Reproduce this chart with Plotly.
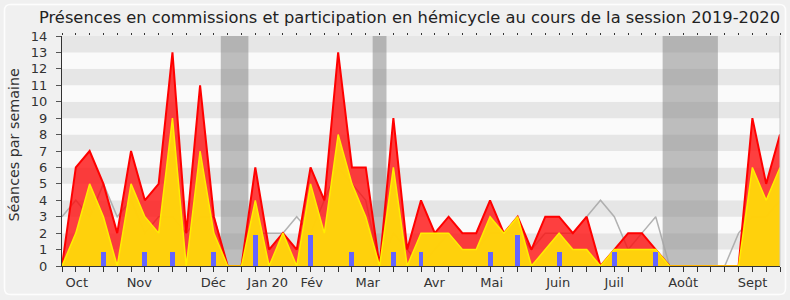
import plotly.graph_objects as go

# ---- data ----
weeks = list(range(53))
total = [0, 6, 7, 5, 2, 7, 4, 5, 13, 2,
         11, 3, 0, 0, 6, 1, 2, 1, 6, 4,
         13, 6, 6, 0, 9, 1, 4, 2, 3, 2,
         2, 4, 2, 3, 1, 3, 3, 2, 3, 0,
         1, 2, 2, 1, 0, 0, 0, 0, 0, 0,
         9, 5, 8]
hemicycle = [0, 2, 5, 3, 0, 5, 3, 2, 9, 0,
             7, 2, 0, 0, 4, 0, 2, 0, 5, 2,
             8, 5, 3, 0, 6, 0, 2, 2, 2, 1,
             1, 3, 2, 3, 0, 1, 2, 1, 1, 0,
             1, 1, 1, 1, 0, 0, 0, 0, 0, 0,
             6, 4, 6]
median = [3, 4, 3, 5, 3, 4, 2, 3, 3, 2,
          3, 3, 0, 0, 2, 2, 2, 3, 2, 4,
          6, 5, 4, 0, 2, 1, 0, 1, 2, 1,
          1, 2, 2, 2, 1, 2, 2, 2, 3, 4,
          3, 1, 2, 3, 0, 0, 0, 0, 0, 2,
          3, 3, 4]
commission_weeks = [3, 6, 8, 11, 14, 18, 21, 24, 26, 31, 33, 36, 40, 43]
commission_vals = [0.88, 0.88, 0.88, 0.88, 1.9, 1.9, 0.88, 0.88, 0.88, 0.88, 1.9, 0.88, 0.88, 0.88]
vacances = [(12, 13), (23, 23), (44, 47)]
months = ["Oct", "Nov", "Déc", "Jan 20", "Fév", "Mar", "Avr", "Mai", "Juin", "Juil", "Août", "Sept"]
month_pos = [1.07, 5.6, 10.96, 14.9, 18.09, 22.14, 26.96, 31.12, 35.94, 39.99, 44.99, 50.02]
y_ticks = list(range(0, 15))

FONT = "DejaVu Sans"
W, H = 790, 300
ML, MR, MT, MB = 62, 10, 36, 34

fig = go.Figure()

# median grey line (drawn beneath the areas)
fig.add_trace(go.Scatter(x=weeks, y=median, mode="lines",
                         line=dict(color="rgba(165,165,165,0.85)", width=1.5),
                         hoverinfo="skip", showlegend=False))
# red area (total)
fig.add_trace(go.Scatter(x=weeks, y=total, mode="lines", fill="tozeroy",
                         line=dict(color="rgb(255,0,0)", width=2),
                         fillcolor="rgba(255,10,10,0.78)", hoverinfo="skip", showlegend=False))
# yellow area (hemicycle)
fig.add_trace(go.Scatter(x=weeks, y=hemicycle, mode="lines", fill="tozeroy",
                         line=dict(color="rgb(255,238,0)", width=1.5),
                         fillcolor="rgba(255,214,10,0.97)", hoverinfo="skip", showlegend=False))
# commission bars on overlay axes (so they are drawn above areas)
fig.add_trace(go.Bar(x=commission_weeks, y=commission_vals, width=0.36,
                     marker=dict(color="rgb(100,100,255)", line=dict(width=0)),
                     xaxis="x2", yaxis="y2", hoverinfo="skip", showlegend=False))

shapes = []
# horizontal stripes
for k in range(14):
    shapes.append(dict(type="rect", xref="paper", x0=0, x1=1, yref="y", y0=k, y1=k + 1,
                       fillcolor="#e6e6e6" if k % 2 == 1 else "#fafafa",
                       line=dict(width=0), layer="below"))
# vacation bands
for a, b in vacances:
    shapes.append(dict(type="rect", xref="x", x0=a - 0.5, x1=b + 0.5, yref="paper", y0=0, y1=1,
                       fillcolor="rgba(128,128,128,0.5)", line=dict(width=0), layer="below"))
# right border line of the plot
shapes.append(dict(type="line", xref="paper", x0=1, x1=1, yref="paper", y0=0, y1=1,
                   line=dict(color="#c8c8c8", width=1)))

# rounded outer frame (in paper coords derived from pixel positions)
def px(xp):
    return (xp - ML) / (W - ML - MR)
def py(yp):
    return (H - MB - yp) / (H - MT - MB)
x0, x1, y0, y1, r = 4.5, 785.5, 4.5, 294.5, 6
path = (f"M {px(x0 + r)},{py(y0)} L {px(x1 - r)},{py(y0)} Q {px(x1)},{py(y0)} {px(x1)},{py(y0 + r)} "
        f"L {px(x1)},{py(y1 - r)} Q {px(x1)},{py(y1)} {px(x1 - r)},{py(y1)} "
        f"L {px(x0 + r)},{py(y1)} Q {px(x0)},{py(y1)} {px(x0)},{py(y1 - r)} "
        f"L {px(x0)},{py(y0 + r)} Q {px(x0)},{py(y0)} {px(x0 + r)},{py(y0)} Z")
shapes.append(dict(type="path", xref="paper", yref="paper", path=path,
                   line=dict(color="#fdfdfd", width=1.5), layer="below"))

fig.update_layout(
    width=W, height=H,
    margin=dict(l=ML, r=MR, t=MT, b=MB, pad=0),
    paper_bgcolor="#f0f0f0",
    plot_bgcolor="#fafafa",
    font=dict(family=FONT, size=13, color="#333333"),
    title=dict(text="Présences en commissions et participation en hémicycle au cours de la session 2019-2020",
               x=409.5 / W, xref="container", xanchor="center",
               y=1 - 17 / H, yref="container", yanchor="middle",
               font=dict(family=FONT, size=16.3, color="#222222")),
    shapes=shapes,
    bargap=0,
    showlegend=False,
    xaxis=dict(range=[0, 52], showgrid=False, zeroline=False,
               showline=True, linecolor="#333333", linewidth=1,
               tickmode="array", tickvals=month_pos, ticktext=months,
               ticks="", ticklabelstandoff=4,
               tickfont=dict(family=FONT, size=13, color="#333333"),
               minor=dict(tickmode="array", tickvals=weeks, ticks="outside",
                          ticklen=5, tickcolor="#333333", tickwidth=1, showgrid=False)),
    xaxis2=dict(range=[0, 52], overlaying="x", side="top", showgrid=False, zeroline=False,
                showline=False, tickmode="array", tickvals=weeks, ticks="outside",
                ticklen=2, tickcolor="#333333", showticklabels=False),
    yaxis=dict(range=[0, 14], showgrid=False, zeroline=False,
               showline=True, linecolor="#333333", linewidth=1,
               tickmode="array", tickvals=y_ticks, ticks="outside", ticklen=5,
               tickcolor="#555555", ticklabelstandoff=6,
               tickfont=dict(family=FONT, size=13, color="#333333")),
    yaxis2=dict(range=[0, 14], overlaying="y", showgrid=False, zeroline=False,
                showticklabels=False, ticks="", showline=False),
    annotations=[dict(text="Séances par semaine", textangle=-90, xref="paper", x=0,
                      xshift=-48, xanchor="center", yref="paper", y=0.528, yanchor="middle",
                      showarrow=False, font=dict(family=FONT, size=14.3, color="#333333"))],
)

fig.write_html("out.html")
